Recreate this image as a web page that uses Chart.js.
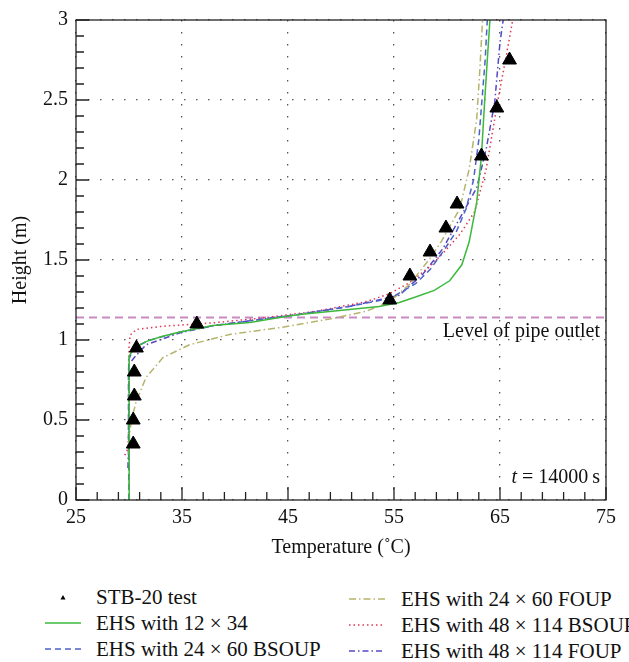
<!DOCTYPE html>
<html>
<head>
<meta charset="utf-8">
<script src="https://cdn.jsdelivr.net/npm/chart.js@4"></script>
<style>
body { margin: 0; background: #fff; overflow: hidden; }
#wrap { position: relative; width: 629px; height: 662px; font-family: "Liberation Serif", serif; }
.item { position: absolute; font-size: 21px; color: #111; white-space: nowrap; height: 20px; line-height: 20px; }
.item svg { vertical-align: top; }
.item span { position: absolute; top: 0; }
</style>
</head>
<body>
<div id="wrap">
  <canvas id="chart" width="629" height="570"></canvas>
  <div id="legend"></div>
</div>
<script>
// STB-20 test measurements
const testTemp   = [30.4, 30.4, 30.5, 30.5, 30.7, 36.4, 54.6, 56.5, 58.4, 59.9, 60.95, 63.25, 64.7, 65.9]
const testHeight = [0.35, 0.5, 0.65, 0.8, 0.95, 1.1, 1.25, 1.4, 1.55, 1.7, 1.85, 2.15, 2.45, 2.75]

// EHS with 12 x 34
const ehs12Temp   = [30.05, 30.0, 30.0, 30.05, 30.3, 30.8, 31.6, 33.0, 34.8, 37.9, 41.4, 44.2, 46.1, 50.8, 53.6, 55.5, 57.1, 58.8, 60.25, 61.4, 62.1, 62.8, 63.25, 63.55, 63.85, 64.05]
const ehs12Height = [0, 0.4, 0.8, 0.9, 0.93, 0.96, 0.99, 1.02, 1.05, 1.09, 1.11, 1.14, 1.16, 1.19, 1.21, 1.235, 1.27, 1.31, 1.37, 1.47, 1.615, 1.86, 2.15, 2.49, 2.8, 3.0]

// EHS with 24 x 60 BSOUP
const bs24Temp   = [30.0, 29.95, 29.95, 30.0, 30.3, 31.0, 32.0, 34.8, 38.0, 41.4, 46.0, 50.8, 54.6, 57.0, 58.4, 59.7, 60.9, 61.8, 62.5, 63.0, 63.3, 63.6, 63.8]
const bs24Height = [0, 0.4, 0.8, 0.88, 0.93, 0.97, 1.0, 1.05, 1.09, 1.12, 1.16, 1.21, 1.26, 1.35, 1.44, 1.56, 1.68, 1.82, 2.0, 2.25, 2.5, 2.75, 3.0]

// EHS with 24 x 60 FOUP
const fo24Temp   = [30.0, 30.0, 30.05, 30.3, 30.7, 31.6, 33.2, 35.7, 39.5, 44.5, 49.2, 52.4, 54.6, 56.5, 58.4, 59.5, 61.2, 62.1, 62.8, 63.1, 63.35]
const fo24Height = [0, 0.3, 0.42, 0.52, 0.62, 0.765, 0.89, 0.97, 1.035, 1.08, 1.134, 1.18, 1.24, 1.35, 1.51, 1.62, 1.82, 2.07, 2.38, 2.69, 3.0]

// EHS with 48 x 114 BSOUP
const bs48Temp   = [29.6, 29.9, 30.0, 30.0, 30.1, 30.7, 33.2, 37.9, 42.6, 47.7, 52.4, 54.6, 56.5, 58.4, 60.0, 61.2, 62.6, 63.7, 64.5, 64.8, 65.6, 66.2]
const bs48Height = [0.28, 0.32, 0.5, 0.95, 1.03, 1.066, 1.086, 1.107, 1.138, 1.18, 1.24, 1.29, 1.36, 1.46, 1.57, 1.66, 1.80, 2.07, 2.38, 2.5, 2.78, 3.0]

// EHS with 48 x 114 FOUP
const fo48Temp   = [29.9, 30.0, 30.0, 30.5, 31.6, 34.8, 38.0, 41.4, 46.0, 50.8, 55.5, 57.7, 59.6, 61.2, 62.8, 63.7, 64.5, 65.0, 65.3]
const fo48Height = [0.2, 0.4, 0.85, 0.89, 0.97, 1.045, 1.09, 1.12, 1.16, 1.21, 1.28, 1.41, 1.57, 1.76, 1.95, 2.195, 2.485, 2.86, 3.0]

// level of pipe outlet
const outletTemp = [25, 75]
const outletHeight = 1.14

const pts = (xs, ys) => xs.map((x, i) => ({x: x, y: ys[i]}))
const FONT = '"Liberation Serif", serif'

const series = [
  {label: 'STB-20 test', data: pts(testTemp, testHeight), color: '#000', dash: null, marker: true},
  {label: 'EHS with 12 × 34', data: pts(ehs12Temp, ehs12Height), color: '#3cb83c', dash: []},
  {label: 'EHS with 24 × 60 BSOUP', data: pts(bs24Temp, bs24Height), color: '#4c62c6', dash: [6, 4]},
  {label: 'EHS with 24 × 60 FOUP', data: pts(fo24Temp, fo24Height), color: '#b6b46a', dash: [7, 3, 1.5, 3]},
  {label: 'EHS with 48 × 114 BSOUP', data: pts(bs48Temp, bs48Height), color: '#e2354f', dash: [1.5, 3]},
  {label: 'EHS with 48 × 114 FOUP', data: pts(fo48Temp, fo48Height), color: '#5548c6', dash: [6, 3, 1.5, 3]},
]

let datasets = series.map(s => s.marker ? {
  label: s.label, data: s.data, showLine: false,
  pointStyle: 'triangle', pointRadius: 8, pointBackgroundColor: '#000', pointBorderColor: '#000', pointBorderWidth: 1,
} : {
  label: s.label, data: s.data, showLine: true, pointRadius: 0,
  borderColor: s.color, borderWidth: 1.5, borderDash: s.dash, tension: 0, fill: false,
})
datasets.push({
  label: 'outlet', data: outletTemp.map(t => ({x: t, y: outletHeight})), showLine: true, pointRadius: 0,
  borderColor: '#c98ac3', borderWidth: 2, borderDash: [8, 5],
})

// frame, inward ticks and the two notes
const framePlugin = {
  id: 'frame',
  afterDraw(chart) {
    const {ctx, chartArea: a, scales: {x, y}} = chart
    ctx.save()
    ctx.strokeStyle = '#222'
    ctx.lineWidth = 1.3
    ctx.strokeRect(a.left, a.top, a.right - a.left, a.bottom - a.top)
    ctx.beginPath()
    for (let i = 0; x.min + i * 2 <= x.max; i++) {
      const px = x.getPixelForValue(x.min + i * 2)
      const len = i % 5 === 0 ? 13 : 8
      ctx.moveTo(px, a.bottom)
      ctx.lineTo(px, a.bottom - len)
    }
    for (let i = 0; i <= Math.round((y.max - y.min) * 10); i++) {
      const py = y.getPixelForValue(y.min + i / 10)
      const len = i % 5 === 0 ? 13 : 8
      ctx.moveTo(a.left, py)
      ctx.lineTo(a.left + len, py)
    }
    ctx.stroke()

    ctx.fillStyle = '#111'
    ctx.font = '20px ' + FONT
    ctx.textAlign = 'right'
    ctx.textBaseline = 'alphabetic'
    ctx.fillText('Level of pipe outlet', a.right - 6, y.getPixelForValue(outletHeight) + 19)
    const rest = ' = 14000\u2009s'
    const w = ctx.measureText(rest).width
    ctx.fillText(rest, a.right - 6, a.bottom - 17)
    ctx.font = 'italic 20px ' + FONT
    ctx.fillText('t', a.right - 6 - w, a.bottom - 17)
    ctx.restore()
  }
}

let chartEle = document.getElementById('chart').getContext('2d')

let chart = new Chart(chartEle, {
  type: 'scatter',
  data: {datasets: datasets},
  plugins: [framePlugin],
  options: {
    responsive: false,
    animation: false,
    devicePixelRatio: 1,
    layout: {padding: {top: 17, right: 23, left: 0, bottom: 0}},
    plugins: {legend: {display: false}, tooltip: {enabled: false}},
    scales: {
      x: {
        type: 'linear', min: 25, max: 75,
        ticks: {stepSize: 10, padding: 6, color: '#111', font: {family: FONT, size: 20}, callback: v => String(v)},
        grid: {color: '#555', lineWidth: 1.3, drawTicks: false},
        border: {display: false, dash: [1.5, 10.5]},
        title: {display: true, text: 'Temperature (˚C)', color: '#111', font: {family: FONT, size: 20}, padding: {top: 0, bottom: 10}},
        afterFit: s => { s.height = 70 },
      },
      y: {
        type: 'linear', min: 0, max: 3,
        ticks: {stepSize: 0.5, padding: 8, color: '#111', font: {family: FONT, size: 20}, callback: v => String(v)},
        grid: {color: '#555', lineWidth: 1.3, drawTicks: false},
        border: {display: false, dash: [1.5, 10.5]},
        title: {display: true, text: 'Height (m)', color: '#111', font: {family: FONT, size: 20}, padding: {top: 9, bottom: 0}},
        afterFit: s => { s.width = 76 },
      },
    },
  },
})

// legend in two columns
const legendPos = [
  {x: 45, y: 597}, {x: 45, y: 623}, {x: 45, y: 649},
  {x: 349, y: 599}, {x: 349, y: 625}, {x: 349, y: 651},
]
const legend = document.getElementById('legend')
series.forEach((s, i) => {
  const p = legendPos[i]
  const div = document.createElement('div')
  div.className = 'item'
  div.style.left = p.x + 'px'
  div.style.top = (p.y - 10) + 'px'
  let sample
  if (s.marker) {
    sample = '<polygon points="15.5,12.5 20.5,12.5 18,8" fill="#000"/>'
  } else {
    sample = '<line x1="0" y1="10" x2="36" y2="10" stroke="' + s.color + '" stroke-width="1.5" stroke-dasharray="' + (s.dash.length ? s.dash.join(' ') : 'none') + '"/>'
  }
  div.innerHTML = '<svg width="36" height="20">' + sample + '</svg><span style="left:' + (p.x === 45 ? 51 : 52) + 'px">' + s.label + '</span>'
  legend.appendChild(div)
})
</script>
</body>
</html>
